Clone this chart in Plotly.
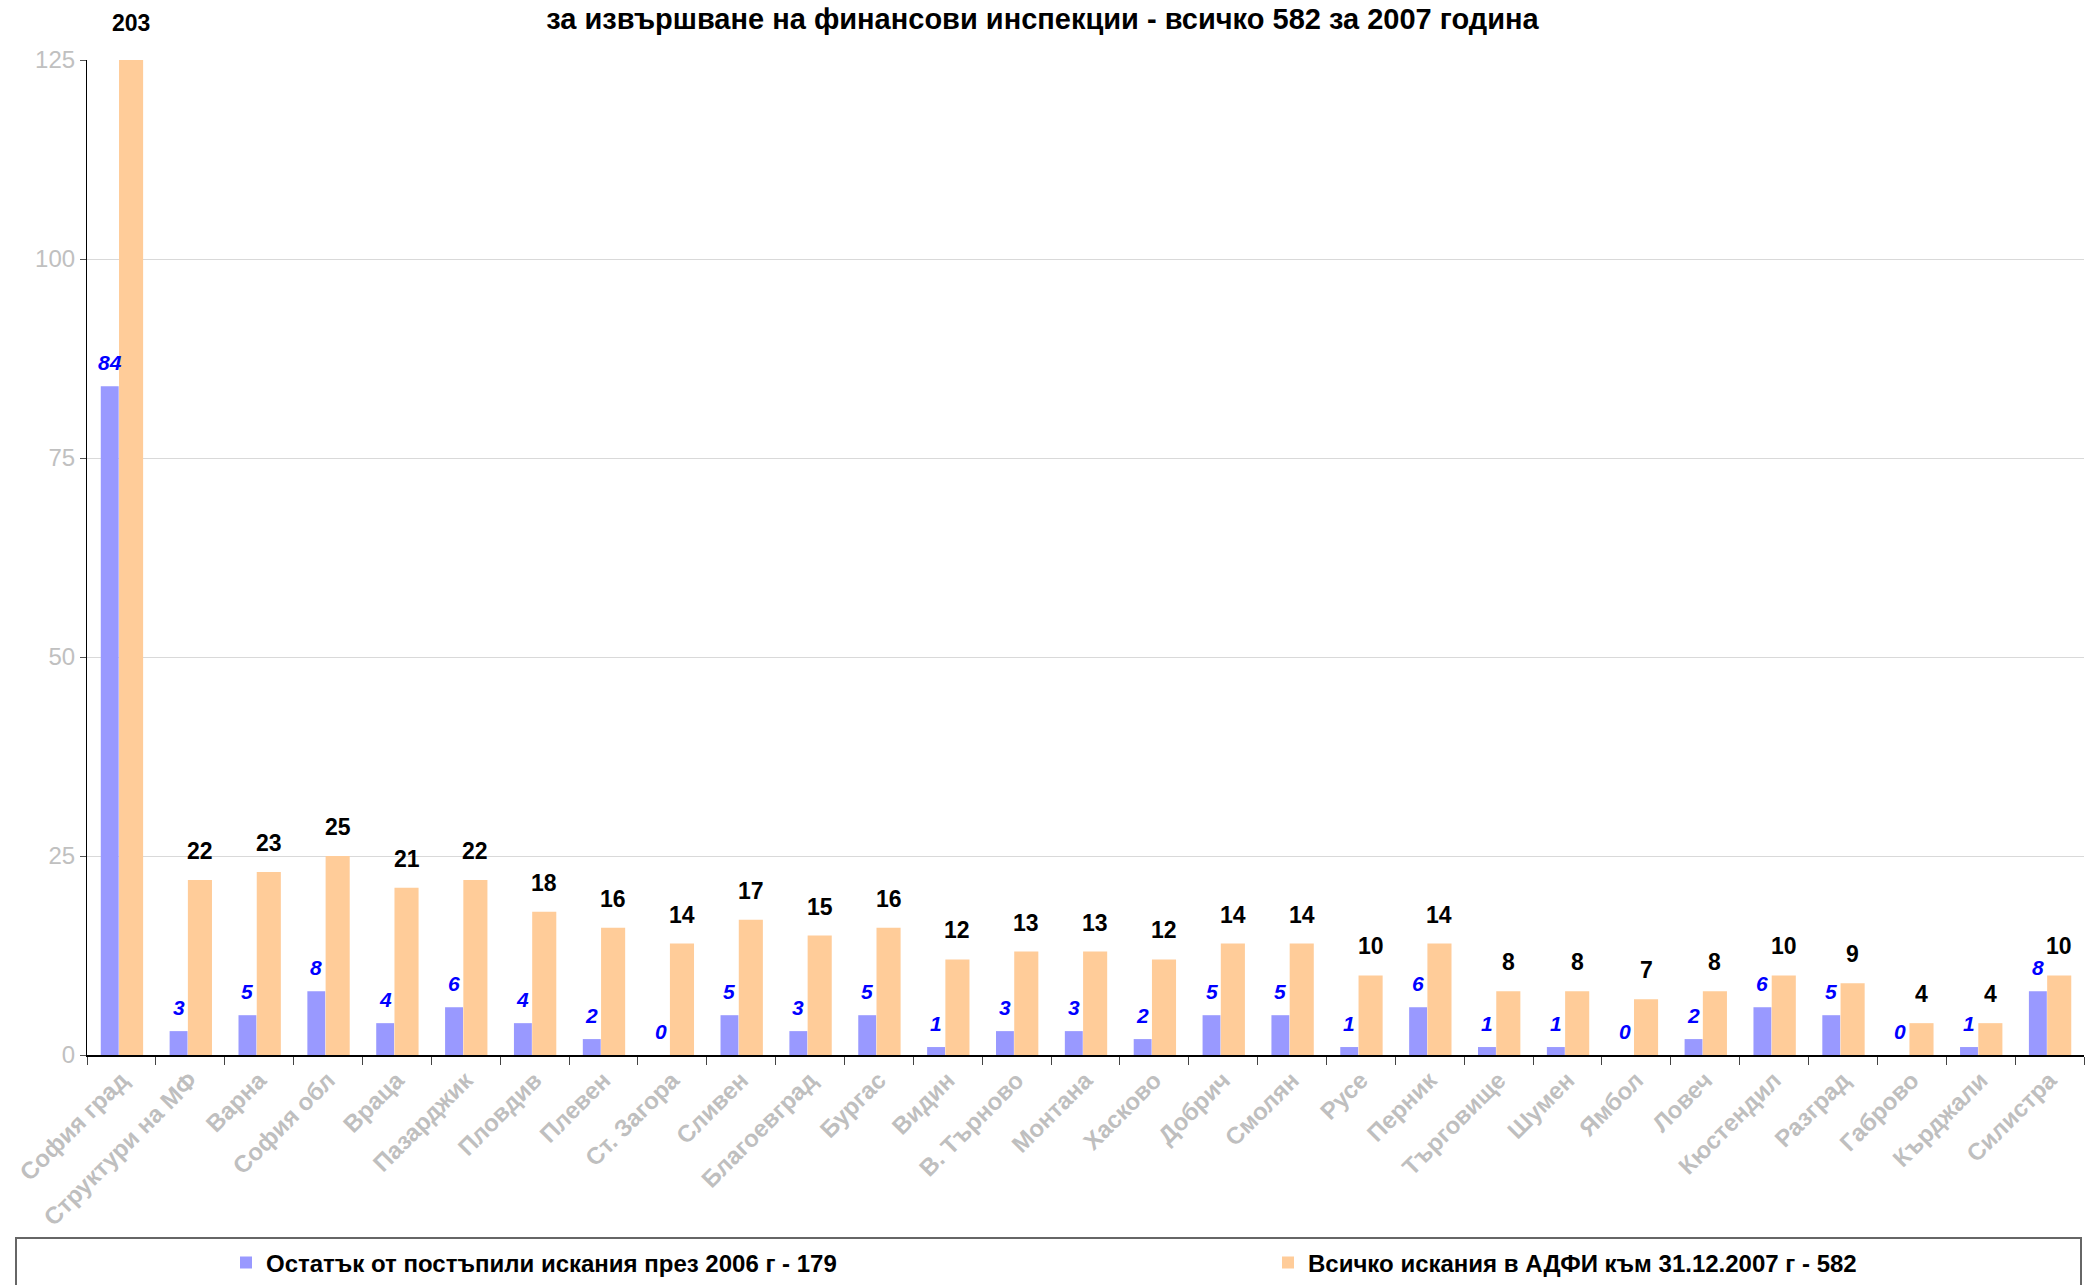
import plotly.graph_objects as go

categories = ["София град", "Структури на МФ", "Варна", "София обл", "Враца", "Пазарджик",
              "Пловдив", "Плевен", "Ст. Загора", "Сливен", "Благоевград", "Бургас", "Видин",
              "В. Търново", "Монтана", "Хасково", "Добрич", "Смолян", "Русе", "Перник",
              "Търговище", "Шумен", "Ямбол", "Ловеч", "Кюстендил", "Разград", "Габрово",
              "Кърджали", "Силистра"]
remaining_2006 = [84, 3, 5, 8, 4, 6, 4, 2, 0, 5, 3, 5, 1, 3, 3, 2, 5, 5, 1, 6, 1, 1, 0, 2, 6, 5, 0, 1, 8]
total_2007 = [203, 22, 23, 25, 21, 22, 18, 16, 14, 17, 15, 16, 12, 13, 13, 12, 14, 14, 10, 14,
              8, 8, 7, 8, 10, 9, 4, 4, 10]
name_blue = "Остатък от постъпили искания през 2006 г - 179"
name_orange = "Всичко искания в АДФИ към 31.12.2007 г - 582"
title = "за извършване на финансови инспекции - всичко 582 за 2007 година"
ymax = 125

FONT = "Liberation Sans, Arial, sans-serif"
W, H = 2085, 1285
ML, MR, MT, MB = 87, 1, 60, 230
plot_w = W - ML - MR
plot_h = H - MT - MB
cat_px = plot_w / len(categories)


def px_x(px):
    return (px - ML) / plot_w


def px_y(py):
    return (MT + plot_h - py) / plot_h


b_off, b_w = -0.30, 0.26
o_off, o_w = -0.035, 0.35

fig = go.Figure()
fig.add_trace(go.Bar(x=categories, y=remaining_2006, name=name_blue, legend="legend",
                     marker=dict(color="#9999FF", line=dict(width=0)),
                     offset=b_off, width=b_w))
fig.add_trace(go.Bar(x=categories, y=total_2007, name=name_orange, legend="legend2",
                     marker=dict(color="#FFCC99", line=dict(width=0)),
                     offset=o_off, width=o_w))

ann = []
for c, v in zip(categories, remaining_2006):
    ann.append(dict(x=c, y=min(v, ymax), text=f"<b><i>{v}</i></b>", showarrow=False,
                    xref="x", yref="y", yanchor="bottom",
                    xshift=(b_off + b_w / 2) * cat_px, yshift=10,
                    font=dict(family=FONT, size=21, color="#0000FF")))
for c, v in zip(categories, total_2007):
    ann.append(dict(x=c, y=min(v, ymax), text=f"<b>{v}</b>", showarrow=False,
                    xref="x", yref="y", yanchor="bottom",
                    xshift=(o_off + o_w / 2) * cat_px, yshift=14 if v <= ymax else 22,
                    font=dict(family=FONT, size=23, color="#000000")))

legend_common = dict(orientation="h", xanchor="left", yanchor="middle", y=px_y(1263),
                     font=dict(family=FONT, size=24, color="#000000", weight="bold"),
                     bgcolor="rgba(0,0,0,0)", borderwidth=0)

fig.update_layout(
    template="none",
    width=W, height=H,
    margin=dict(l=ML, r=MR, t=MT, b=MB, autoexpand=False),
    paper_bgcolor="white", plot_bgcolor="white",
    barmode="overlay",
    title=dict(text=f"<b>{title}</b>", x=0.5, xanchor="center", y=1 - 19 / H, yanchor="middle",
               font=dict(family=FONT, size=29, color="#000000")),
    font=dict(family=FONT),
    showlegend=True,
    legend=dict(x=px_x(226), **legend_common),
    legend2=dict(x=px_x(1268), **legend_common),
    annotations=ann,
    shapes=[dict(type="rect", xref="paper", yref="paper",
                 x0=px_x(16), x1=px_x(2081),
                 y0=px_y(1300), y1=px_y(1238),
                 line=dict(color="#666666", width=2), fillcolor="rgba(0,0,0,0)")],
)
fig.update_xaxes(type="category", tickson="boundaries", ticks="outside", ticklen=8,
                 tickcolor="#444444", tickangle=-45, showline=True, linecolor="#000000",
                 linewidth=1.5, showgrid=False, automargin=False,
                 tickfont=dict(family=FONT, size=24, color="#BFBFBF", weight="bold"))
fig.update_yaxes(range=[0, ymax], tickvals=[0, 25, 50, 75, 100, 125], ticks="outside",
                 ticklen=6, tickcolor="#555555", showline=True, linecolor="#000000",
                 linewidth=1.2, showgrid=True, gridcolor="#D9D9D9", gridwidth=1.2,
                 zeroline=False, automargin=False,
                 tickfont=dict(family=FONT, size=24, color="#C0C0C0"))

fig.write_html("out.html", config={"displayModeBar": False},
               post_script="document.body.style.margin='0px';")
